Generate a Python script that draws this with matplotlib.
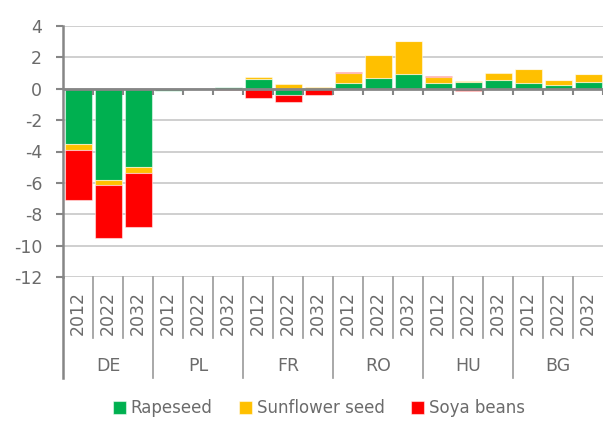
import matplotlib
matplotlib.use("Agg")
import matplotlib.pyplot as plt
from matplotlib.transforms import blended_transform_factory
import numpy as np

plt.rcParams['font.family'] = ['DejaVu Sans']
plt.rcParams['axes.unicode_minus'] = False

countries = ["DE", "PL", "FR", "RO", "HU", "BG"]
years = ["2012", "2022", "2032"]
series_names = ["Rapeseed", "Sunflower seed", "Soya beans"]
rapeseed = [-3.52, -5.81, -4.96, -0.12, 0.0, 0.08, 0.62, -0.42, 0.0,
            0.39, 0.71, 0.92, 0.39, 0.45, 0.56, 0.39, 0.22, 0.45]
sunflower = [-0.38, -0.34, -0.44, 0.0, 0.0, 0.0, 0.15, 0.28, 0.13,
             0.60, 1.44, 2.12, 0.36, 0.05, 0.44, 0.85, 0.34, 0.51]
soya = [-3.20, -3.35, -3.42, -0.02, -0.03, -0.05, -0.59, -0.44, -0.40,
        0.08, 0.0, 0.0, 0.07, -0.12, -0.03, 0.0, 0.0, 0.0]
colors = ["#00B050", "#FFC000", "#FF0000"]
yticks = list(range(-12, 5, 2))

text_color = "#6b6b6b"
axis_color = "#868686"
grid_color = "#cccccc"

fig = plt.figure(figsize=(6.04, 4.21), dpi=100)
ax = fig.add_axes([63/604, 1-277/421, (603-63)/604, 251/421])

n = len(countries) * len(years)
x = np.arange(n) + 0.5
pos_bottom = np.zeros(n)
neg_bottom = np.zeros(n)
for vals, col, name in zip([rapeseed, sunflower, soya], colors, series_names):
    v = np.array(vals)
    bottoms = np.where(v >= 0, pos_bottom, neg_bottom)
    ax.bar(x, v, width=0.9, bottom=bottoms, color=col, label=name,
           edgecolor=(1, 1, 1, 0.5), linewidth=0.8, zorder=3)
    pos_bottom += np.where(v >= 0, v, 0)
    neg_bottom += np.where(v < 0, v, 0)

ax.set_xlim(0, n)
ax.set_ylim(-12, 4)
ax.set_yticks(yticks)
ax.set_yticklabels([str(t) for t in yticks])
ax.tick_params(axis='y', colors=axis_color, labelcolor=text_color,
               labelsize=12.5, length=5, width=1.5, pad=10)
ax.set_xticks([])
for yv in yticks:
    ax.axhline(yv, color=grid_color, lw=1.3, zorder=1)

for s in ['top', 'right', 'bottom']:
    ax.spines[s].set_visible(False)
ax.spines['left'].set_color(axis_color)
ax.spines['left'].set_linewidth(1.8)

# zero axis line with ticks
ax.axhline(0, color=axis_color, lw=2, zorder=4)
ax.vlines(np.arange(n + 1), 0, -0.4, color=axis_color, lw=1.5, zorder=4)

trans = blended_transform_factory(ax.transData, ax.transAxes)
for i in range(n + 1):
    if i % 3 == 0:
        if i in (0, n):
            continue
        y1 = -0.402
    else:
        y1 = -0.243
    ax.plot([i, i], [0, y1], transform=trans, color="#999999", lw=1.2,
            clip_on=False)
ax.plot([0, 0], [0, -0.402], transform=trans, color=axis_color, lw=1.8,
        clip_on=False)

for i in range(n):
    ax.text(i + 0.5, -0.143, years[i % 3], rotation=90, ha='center',
            va='center', transform=trans, color=text_color, fontsize=12.5)
for g, c in enumerate(countries):
    ax.text(3 * g + 1.5, -0.355, c, ha='center', va='center',
            transform=trans, color=text_color, fontsize=12.5)

handles, labels = ax.get_legend_handles_labels()
fig.legend(handles, labels, loc='center', bbox_to_anchor=(0.528, 0.03),
           ncol=3, frameon=False, fontsize=12, labelcolor=text_color,
           handlelength=0.75, handleheight=0.75, handletextpad=0.3,
           columnspacing=1.6, borderpad=0.2)

fig.savefig("out.png", dpi=100)
